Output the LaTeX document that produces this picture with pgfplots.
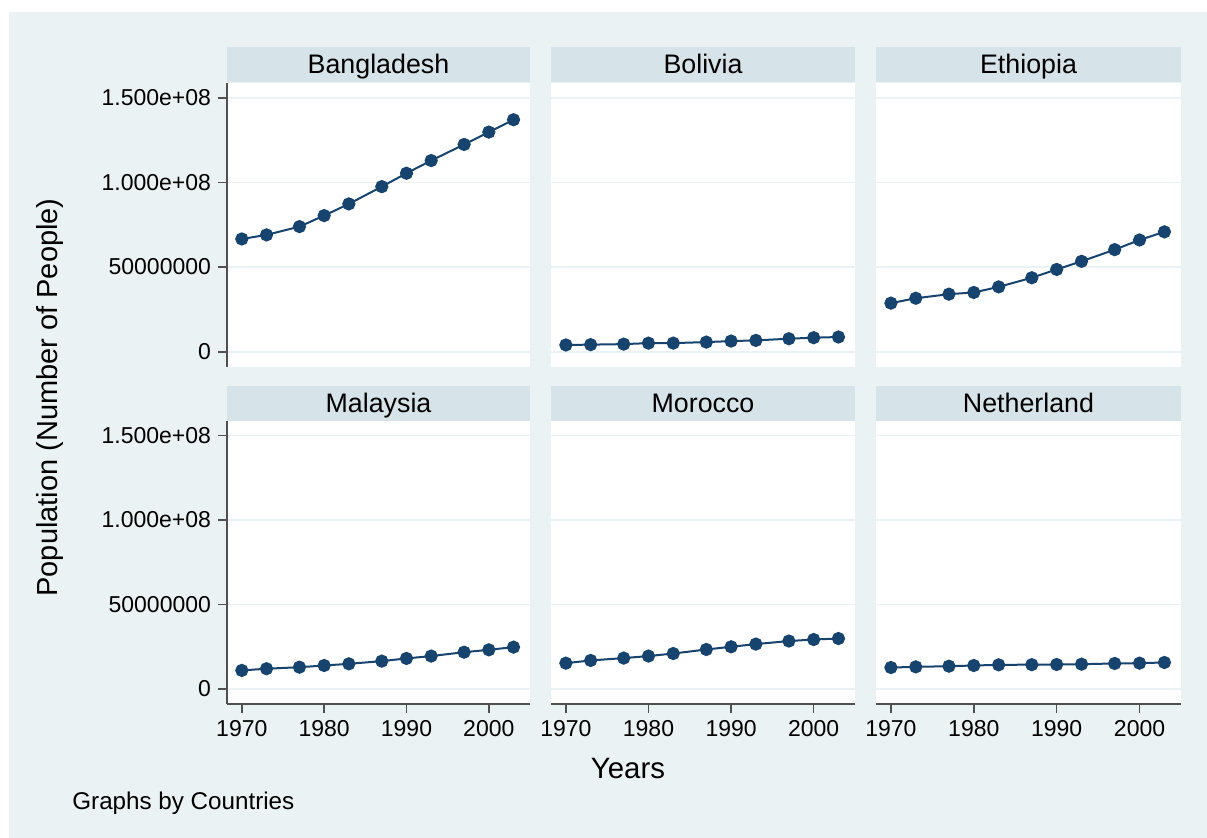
\documentclass[border=0pt]{standalone}
\usepackage{pgfplots}
\usepackage{pgfplotstable}
\pgfplotsset{compat=1.18}
\usepackage{fontspec}
\setmainfont{Liberation Sans}
\usetikzlibrary{calc}

\definecolor{bgc}{RGB}{234,242,243}
\definecolor{stripc}{RGB}{214,227,232}
\definecolor{gridc}{RGB}{234,242,243}
\definecolor{stnavy}{RGB}{22,68,110}
\definecolor{axc}{RGB}{80,80,80}

% population by year (number of people)
\pgfplotstableread{
year  BGD       BOL      ETH      MYS      MAR      NLD
1970  66600000  4000000  28700000 10900000 15200000 12600000
1973  69000000  4200000  31600000 11900000 16800000 13000000
1977  73900000  4500000  34000000 12800000 18200000 13400000
1980  80400000  5100000  35000000 13800000 19400000 13800000
1983  87300000  5100000  38300000 14800000 20900000 14200000
1987  97500000  5700000  43700000 16400000 23300000 14300000
1990  105400000 6300000  48600000 18000000 24900000 14400000
1993  112900000 6700000  53400000 19400000 26500000 14600000
1997  122400000 7700000  60300000 21700000 28300000 15000000
2000  129700000 8300000  66000000 23100000 29200000 15200000
2003  137000000 8700000  70800000 24700000 29800000 15600000
}\popdata

\pgfplotsset{
  panel/.style={
    anchor=south west,
    scale only axis,
    xmin=1968.2, xmax=2005.0,
    ymin=-9000000, ymax=158700000,
    scaled y ticks=false,
    axis background/.style={fill=white},
    axis x line*=bottom, axis y line*=left,
    axis line style={draw=axc, line width=0.8pt},
    tick align=outside,
    major tick length=4.5pt,
    tick style={draw=axc, line width=0.8pt},
    xtick={1970,1980,1990,2000},
    xticklabels={1970,1980,1990,2000},
    ytick={0,50000000,100000000,150000000},
    yticklabels={0,50000000,1.000e+08,1.500e+08},
    ticklabel style={font=\fontsize{11.5}{13}\selectfont, text=black},
    ymajorgrids,
    grid style={draw=gridc, line width=0.8pt},
  },
  popline/.style={draw=stnavy, line width=1pt, mark=*,
    mark size=2.8pt, mark options={fill=stnavy, draw=stnavy, solid}},
  noy/.style={yticklabels={}, y axis line style={draw=none},
    ytick style={draw=none}},
  nox/.style={xticklabels={}, x axis line style={draw=none},
    xtick style={draw=none}},
}

\newcommand{\strip}[4]{% x0, width, top (pt, negative), label
  \fill[stripc] (#1,#3) rectangle ++(#2,-17.5pt);
  \node[anchor=base, inner sep=0pt, font=\fontsize{13.4}{15}\selectfont]
    at ($(#1,#3)+(0.5*#2,-13.25pt)$) {#4};
}

\begin{document}
\begin{tikzpicture}
  % page and graph region
  \fill[white] (0pt,0pt) rectangle (603.5pt,-419pt);
  \fill[bgc] (4.5pt,-6pt) rectangle (603.5pt,-419pt);

  % strips above each panel
  \strip{113.5pt}{151.5pt}{-23.5pt}{Bangladesh}
  \strip{275.5pt}{152pt}{-23.5pt}{Bolivia}
  \strip{438pt}{152.5pt}{-23.5pt}{Ethiopia}
  \strip{113.5pt}{151.5pt}{-193pt}{Malaysia}
  \strip{275.5pt}{152pt}{-193pt}{Morocco}
  \strip{438pt}{152.5pt}{-193pt}{Netherland}

  \begin{axis}[panel, nox, at={(113.5pt,-183.5pt)}, width=151.5pt, height=142pt]
    \addplot[popline] table[x=year, y=BGD] {\popdata};
  \end{axis}
  \begin{axis}[panel, nox, noy, at={(275.5pt,-183.5pt)}, width=152pt, height=142pt]
    \addplot[popline] table[x=year, y=BOL] {\popdata};
  \end{axis}
  \begin{axis}[panel, nox, noy, at={(438pt,-183.5pt)}, width=152.5pt, height=142pt]
    \addplot[popline] table[x=year, y=ETH] {\popdata};
  \end{axis}
  \begin{axis}[panel, at={(113.5pt,-352pt)}, width=151.5pt, height=141.5pt]
    \addplot[popline] table[x=year, y=MYS] {\popdata};
  \end{axis}
  \begin{axis}[panel, noy, at={(275.5pt,-352pt)}, width=152pt, height=141.5pt]
    \addplot[popline] table[x=year, y=MAR] {\popdata};
  \end{axis}
  \begin{axis}[panel, noy, at={(438pt,-352pt)}, width=152.5pt, height=141.5pt]
    \addplot[popline] table[x=year, y=NLD] {\popdata};
  \end{axis}

  % titles and note
  \node[rotate=90, font=\fontsize{14.5}{16}\selectfont] at (25pt,-198.75pt)
    {Population (Number of People)};
  \node[font=\fontsize{14.7}{16}\selectfont] at (314pt,-384.5pt) {Years};
  \node[anchor=west, inner sep=0pt, font=\fontsize{12.1}{14}\selectfont]
    at (36pt,-401.5pt) {Graphs by Countries};
\end{tikzpicture}
\end{document}
